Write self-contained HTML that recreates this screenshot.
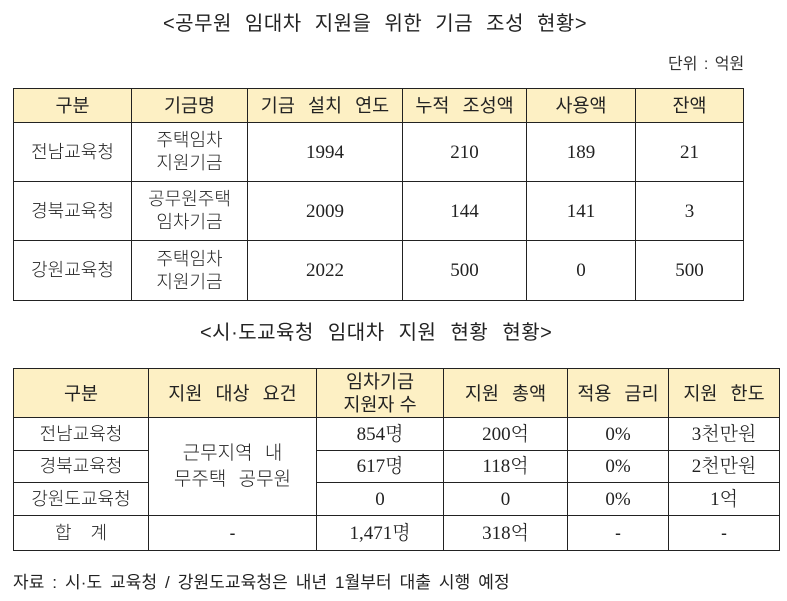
<!DOCTYPE html>
<html><head><meta charset="utf-8"><style>
body{margin:0;width:787px;height:601px;background:#fff;position:relative;overflow:hidden;font-family:"Liberation Sans","Noto Sans CJK KR",sans-serif;color:#222}
.t{position:absolute;white-space:nowrap}
table{position:absolute;border-collapse:collapse;table-layout:fixed}
td{border:1.5px solid #222;text-align:center;padding:0;font-size:18px;line-height:23px;font-weight:300}
tr.h td{background:#fdf0c4;font-weight:400;font-size:18.5px}
.n{font-family:"Liberation Serif","Noto Serif CJK KR",serif;font-size:19px}
</style></head><body>
<div class="t" style="left:163px;top:7px;font-size:20px;word-spacing:7px;letter-spacing:0.5px">&lt;공무원 임대차 지원을 위한 기금 조성 현황&gt;</div>
<div class="t" style="left:668px;top:50px;font-size:16px;color:#333;word-spacing:2px">단위 : 억원</div>
<table style="left:13px;top:88px;width:730px">
<colgroup><col style="width:118px"><col style="width:116px"><col style="width:155px"><col style="width:124px"><col style="width:109px"><col style="width:108px"></colgroup>
<tr class="h" style="height:34px"><td>구분</td><td>기금명</td><td style="word-spacing:8px">기금 설치 연도</td><td style="word-spacing:8px">누적 조성액</td><td>사용액</td><td>잔액</td></tr>
<tr style="height:59px"><td>전남교육청</td><td>주택임차<br>지원기금</td><td class="n">1994</td><td class="n">210</td><td class="n">189</td><td class="n">21</td></tr>
<tr style="height:59px"><td>경북교육청</td><td>공무원주택<br>임차기금</td><td class="n">2009</td><td class="n">144</td><td class="n">141</td><td class="n">3</td></tr>
<tr style="height:60px"><td>강원교육청</td><td>주택임차<br>지원기금</td><td class="n">2022</td><td class="n">500</td><td class="n">0</td><td class="n">500</td></tr>
</table>
<div class="t" style="left:200px;top:316px;font-size:20px;word-spacing:8px;letter-spacing:0.5px">&lt;시·도교육청 임대차 지원 현황 현황&gt;</div>
<table style="left:13px;top:368px;width:766px">
<colgroup><col style="width:135px"><col style="width:168px"><col style="width:127px"><col style="width:124px"><col style="width:101px"><col style="width:111px"></colgroup>
<tr class="h" style="height:49px"><td>구분</td><td style="word-spacing:8px">지원 대상 요건</td><td>임차기금<br>지원자 수</td><td style="word-spacing:8px">지원 총액</td><td style="word-spacing:8px">적용 금리</td><td style="word-spacing:8px">지원 한도</td></tr>
<tr style="height:33px"><td>전남교육청</td><td rowspan="3" style="word-spacing:7px;font-size:19px;line-height:26px">근무지역 내<br>무주택 공무원</td><td class="n">854명</td><td class="n">200억</td><td class="n">0%</td><td class="n">3천만원</td></tr>
<tr style="height:32px"><td>경북교육청</td><td class="n">617명</td><td class="n">118억</td><td class="n">0%</td><td class="n">2천만원</td></tr>
<tr style="height:33px"><td>강원도교육청</td><td class="n">0</td><td class="n">0</td><td class="n">0%</td><td class="n">1억</td></tr>
<tr style="height:35px"><td style="word-spacing:14px">합 계</td><td>-</td><td class="n">1,471명</td><td class="n">318억</td><td>-</td><td>-</td></tr>
</table>
<div class="t" style="left:13px;top:568px;font-size:17px;word-spacing:3px;letter-spacing:0.1px">자료 : 시·도 교육청 / 강원도교육청은 내년 1월부터 대출 시행 예정</div>
</body></html>
